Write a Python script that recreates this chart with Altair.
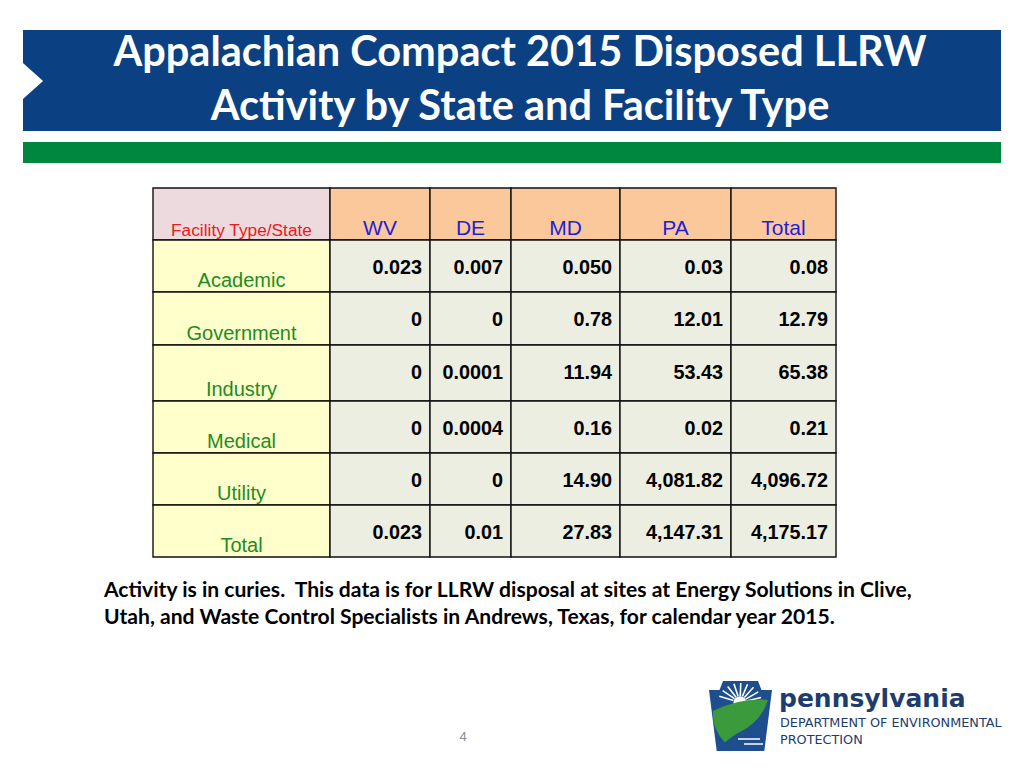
import math
import altair as alt
import pandas as pd

# ---------------- content ----------------
title_lines = ["Appalachian Compact 2015 Disposed LLRW", "Activity by State and Facility Type"]
corner_label = "Facility Type/State"
states = ["WV", "DE", "MD", "PA", "Total"]
facilities = ["Academic", "Government", "Industry", "Medical", "Utility", "Total"]
wv_values = ["0.023", "0", "0", "0", "0", "0.023"]
de_values = ["0.007", "0", "0.0001", "0.0004", "0", "0.01"]
md_values = ["0.050", "0.78", "11.94", "0.16", "14.90", "27.83"]
pa_values = ["0.03", "12.01", "53.43", "0.02", "4,081.82", "4,147.31"]
total_values = ["0.08", "12.79", "65.38", "0.21", "4,096.72", "4,175.17"]
note_lines = [
    "Activity is in curies.\u00a0 This data is for LLRW disposal at sites at Energy Solutions in Clive,",
    "Utah, and Waste Control Specialists in Andrews, Texas, for calendar year 2015.",
]
page_number = "4"
logo_lines = ["pennsylvania", "DEPARTMENT OF ENVIRONMENTAL", "PROTECTION"]

# ---------------- layout (page pixel coordinates) ----------------
W, H = 1008, 752
xs = alt.Scale(domain=[8, 8 + W], nice=False, zero=False)
ys = alt.Scale(domain=[8, 8 + H], nice=False, zero=False, reverse=True)

BLUE = "#0B4182"
GREEN = "#00873F"
table_left = 153
col_widths = [177, 100, 81, 109, 111, 105]
table_top = 188
row_heights = [52, 52, 53, 56, 52, 52, 52]

col_edges = [table_left]
for w in col_widths:
    col_edges.append(col_edges[-1] + w)
row_edges = [table_top]
for h in row_heights:
    row_edges.append(row_edges[-1] + h)


def X(f="x"):
    return alt.X(f, type="quantitative", scale=xs, axis=None)


def Y(f="y"):
    return alt.Y(f, type="quantitative", scale=ys, axis=None)


def X2(f="x2"):
    return alt.X2(f)


def Y2(f="y2"):
    return alt.Y2(f)


# ---------------- slide decoration ----------------
bands = pd.DataFrame([
    {"x": 23, "x2": 1001, "y": 30, "y2": 131, "c": BLUE},
    {"x": 23, "x2": 1001, "y": 142, "y2": 163, "c": GREEN},
])
band_layer = alt.Chart(bands).mark_rect().encode(
    x=X(), x2=X2(), y=Y(), y2=Y2(), color=alt.Color("c:N", scale=None)
)

wedge = alt.Chart(pd.DataFrame([{"x": 33, "y": 81}])).mark_point(
    shape="M -0.56 -1 L 0.56 0 L -0.56 1 Z", size=1296, filled=True,
    fill="white", opacity=1, strokeWidth=0
).encode(x=X(), y=Y())

title_df = pd.DataFrame({"t": title_lines, "x": [520, 520], "y": [66, 120]})
title_layer = alt.Chart(title_df).mark_text(
    font="Lato", fontWeight="bold", fontSize=41.5, color="white", align="center", baseline="alphabetic"
).encode(x=X(), y=Y(), text="t:N")

# ---------------- table ----------------
cols_values = [wv_values, de_values, md_values, pa_values, total_values]
cells = []
for r in range(len(facilities) + 1):
    for c in range(len(states) + 1):
        if r == 0 and c == 0:
            fill = "#ECDADE"
        elif r == 0:
            fill = "#FBC89B"
        elif c == 0:
            fill = "#FFFFCC"
        else:
            fill = "#EBEEE1"
        cells.append({"x": col_edges[c], "x2": col_edges[c + 1],
                      "y": row_edges[r], "y2": row_edges[r + 1], "c": fill})
cells_df = pd.DataFrame(cells)
cell_layer = alt.Chart(cells_df).mark_rect(stroke="#111111", strokeWidth=1.4).encode(
    x=X(), x2=X2(), y=Y(), y2=Y2(), color=alt.Color("c:N", scale=None)
)

corner_df = pd.DataFrame([{"t": corner_label, "x": (col_edges[0] + col_edges[1]) / 2, "y": row_edges[1] - 4}])
corner_layer = alt.Chart(corner_df).mark_text(
    font="Liberation Sans", fontSize=17.3, color="#F01818", align="center", baseline="alphabetic"
).encode(x=X(), y=Y(), text="t:N")

state_df = pd.DataFrame({
    "t": states,
    "x": [(col_edges[i + 1] + col_edges[i + 2]) / 2 for i in range(len(states))],
    "y": [row_edges[1] - 5] * len(states),
})
state_layer = alt.Chart(state_df).mark_text(
    font="Liberation Sans", fontSize=21, color="#1F1FD8", align="center", baseline="alphabetic"
).encode(x=X(), y=Y(), text="t:N")

fac_df = pd.DataFrame({
    "t": facilities,
    "x": [(col_edges[0] + col_edges[1]) / 2] * len(facilities),
    "y": [row_edges[i + 2] - 5 for i in range(len(facilities))],
})
fac_layer = alt.Chart(fac_df).mark_text(
    font="Liberation Sans", fontSize=20, color="#1E8C1E", align="center", baseline="alphabetic"
).encode(x=X(), y=Y(), text="t:N")

vals = []
for ci, colvals in enumerate(cols_values):
    for ri, v in enumerate(colvals):
        vals.append({"t": v, "x": col_edges[ci + 2] - 8, "y": row_edges[ri + 1] + 34})
vals_df = pd.DataFrame(vals)
val_layer = alt.Chart(vals_df).mark_text(
    font="Liberation Sans", fontWeight="bold", fontSize=19.8, color="black", align="right", baseline="alphabetic"
).encode(x=X(), y=Y(), text="t:N")

# ---------------- note & page number ----------------
note_df = pd.DataFrame({"t": note_lines, "x": [104, 104], "y": [597, 624]})
note_layer = alt.Chart(note_df).mark_text(
    font="Lato", fontWeight="bold", fontSize=21.1, color="black", align="left", baseline="alphabetic"
).encode(x=X(), y=Y(), text="t:N")

page_df = pd.DataFrame([{"t": page_number, "x": 463, "y": 741}])
page_layer = alt.Chart(page_df).mark_text(
    font="Liberation Sans", fontSize=13, color="#8C8C8C", align="center", baseline="alphabetic"
).encode(x=X(), y=Y(), text="t:N")

# ---------------- logo ----------------
keystone = alt.Chart(pd.DataFrame([{"x": 740.5, "y": 716}])).mark_point(
    shape="M -0.5 -1 L 0.5 -1 L 0.6 -0.74 L 0.9 -0.74 L 0.68 1 L -0.68 1 L -0.9 -0.74 L -0.6 -0.74 Z",
    size=4900, filled=True, fill="#1E4E8E", opacity=1, strokeWidth=0
).encode(x=X(), y=Y())

sun = alt.Chart(pd.DataFrame([{"x": 740, "y": 703}])).mark_point(
    shape="circle", size=180, filled=True, fill="white", opacity=1, strokeWidth=0
).encode(x=X(), y=Y())

ray_angles = [200, 218, 236, 254, 272, 290, 308, 326, 344]
rays = []
for a in ray_angles:
    rad = math.radians(a)
    rays.append({"x": 740 + 7 * math.cos(rad), "y": 703 + 7 * math.sin(rad),
                 "x2": 740 + 22 * math.cos(rad), "y2": 703 + 20 * math.sin(rad)})
ray_layer = alt.Chart(pd.DataFrame(rays)).mark_rule(color="white", strokeWidth=1.6).encode(
    x=X(), y=Y(), x2=X2(), y2=Y2()
)

leaf = alt.Chart(pd.DataFrame([{"x": 740, "y": 720}])).mark_point(
    shape="M -0.9 -0.3 Q 0 -0.75 0.93 -0.67 Q 0.7 0.1 -0.1 0.45 Q -0.35 0.6 -0.5 0.75 Q -0.95 0.3 -0.9 -0.3 Z",
    size=3600, filled=True, fill="#3A9A3C", opacity=1, strokeWidth=0
).encode(x=X(), y=Y())

waves = pd.DataFrame([
    {"x": 738, "x2": 760, "y": 739, "y2": 739},
    {"x": 744, "x2": 763, "y": 744, "y2": 744},
])
wave_layer = alt.Chart(waves).mark_rule(color="white", strokeWidth=1.5).encode(
    x=X(), y=Y(), x2=X2(), y2=Y2()
)

logo_df = pd.DataFrame({
    "t": logo_lines,
    "x": [779, 780, 780],
    "y": [707, 727, 744],
})
logo_big = alt.Chart(logo_df.iloc[[0]]).mark_text(
    font="DejaVu Sans", fontWeight="bold", fontSize=25, color="#1D3D6E", align="left", baseline="alphabetic"
).encode(x=X(), y=Y(), text="t:N")
logo_small = alt.Chart(logo_df.iloc[[1, 2]]).mark_text(
    font="DejaVu Sans", fontSize=12.8, color="#1D3D6E", align="left", baseline="alphabetic"
).encode(x=X(), y=Y(), text="t:N")

chart = alt.layer(
    band_layer, wedge, title_layer,
    cell_layer, corner_layer, state_layer, fac_layer, val_layer,
    note_layer, page_layer,
    keystone, sun, ray_layer, leaf, wave_layer, logo_big, logo_small,
).properties(
    width=W, height=H, padding=0, autosize=alt.AutoSizeParams(type="none"), background="white"
).configure_view(stroke=None)

chart.save("out.html", embed_options={"renderer": "svg", "actions": False})
